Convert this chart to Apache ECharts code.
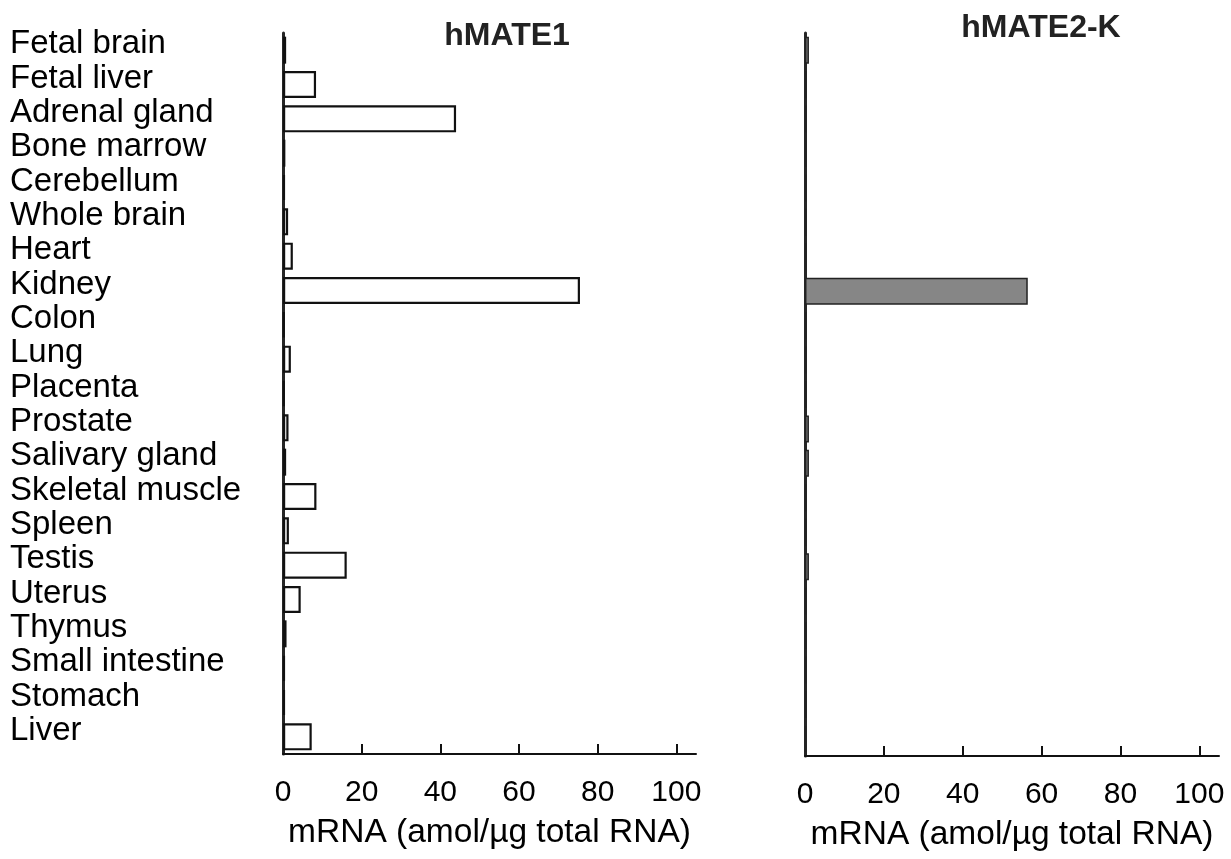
<!DOCTYPE html>
<html>
<head>
<meta charset="utf-8">
<script src="https://cdn.jsdelivr.net/npm/echarts@6/dist/echarts.min.js"></script>
<style>
html,body{margin:0;padding:0;background:#fff;}
#chart{width:1231px;height:859px;}
</style>
</head>
<body>
<div id="chart"></div>
<script>
const categories = ['Fetal brain','Fetal liver','Adrenal gland','Bone marrow','Cerebellum','Whole brain','Heart','Kidney','Colon','Lung','Placenta','Prostate','Salivary gland','Skeletal muscle','Spleen','Testis','Uterus','Thymus','Small intestine','Stomach','Liver'];
const hMATE1 = [0.8, 8.4, 44, 0.6, 0.5, 1.3, 2.5, 75.5, 0.4, 2.0, 0.4, 1.4, 0.8, 8.5, 1.5, 16.2, 4.5, 0.9, 0.5, 0.5, 7.3];
const hMATE2K = [1.0, 0.4, 0.4, 0.4, 0.4, 0.4, 0.4, 56.5, 0.4, 0.4, 0.4, 1.0, 1.0, 0.4, 0.4, 1.0, 0.4, 0.4, 0.4, 0.4, 0.3];
const xTicks = [0, 20, 40, 60, 80, 100];
const titles = ['hMATE1', 'hMATE2-K'];
const xName = 'mRNA (amol/\u00b5g total RNA)';

const FONT = "'Liberation Sans', Arial, sans-serif";
const chart = echarts.init(document.getElementById('chart'), null, {renderer: 'canvas'});

function xAxis(gridIndex) {
  return {
    type: 'value', gridIndex, min: 0, max: 105, interval: 20,
    name: xName, nameLocation: 'middle', nameGap: 62,
    nameTextStyle: {fontFamily: FONT, fontSize: 33.5, color: '#000'},
    axisLine: {show: true, lineStyle: {color: '#111', width: 2}},
    axisTick: {show: true, inside: true, length: 10, lineStyle: {color: '#111', width: 2}, customValues: [20, 40, 60, 80, 100]},
    axisLabel: {fontFamily: FONT, fontSize: 30, color: '#000', margin: 24, customValues: xTicks},
    splitLine: {show: false}
  };
}
function yAxis(gridIndex, showLabels) {
  return {
    type: 'category', gridIndex, data: categories, inverse: true,
    axisLine: {show: true, lineStyle: {color: '#262626', width: 3}},
    axisTick: {show: false},
    axisLabel: showLabels ? {
      show: true, interval: 0, align: 'left', margin: 273,
      formatter: v => '{c|' + v + '}',
      rich: {c: {fontFamily: FONT, fontSize: 33, color: '#000', padding: [0, 0, 12, 0]}}
    } : {show: false},
    splitLine: {show: false}
  };
}

chart.setOption({
  animation: false,
  backgroundColor: '#fff',
  title: [
    {text: titles[0], left: 507, top: 20, textAlign: 'center', padding: 0, textStyle: {fontFamily: FONT, fontSize: 32, fontWeight: 'bold', color: '#222'}},
    {text: titles[1], left: 1041, top: 12, textAlign: 'center', padding: 0, textStyle: {fontFamily: FONT, fontSize: 32, fontWeight: 'bold', color: '#222'}}
  ],
  grid: [
    {left: 283, right: 535, top: 33, bottom: 105},
    {left: 805, right: 12, top: 33, bottom: 103}
  ],
  xAxis: [xAxis(0), xAxis(1)],
  yAxis: [yAxis(0, true), yAxis(1, false)],
  series: [
    {type: 'bar', name: titles[0], xAxisIndex: 0, yAxisIndex: 0, data: hMATE1, barWidth: 27,
     itemStyle: {color: '#fff', borderColor: '#111', borderWidth: 2.2}},
    {type: 'bar', name: titles[1], xAxisIndex: 1, yAxisIndex: 1, data: hMATE2K, barWidth: 27,
     itemStyle: {color: '#868686', borderColor: '#222', borderWidth: 1.5}}
  ]
});
</script>
</body>
</html>
